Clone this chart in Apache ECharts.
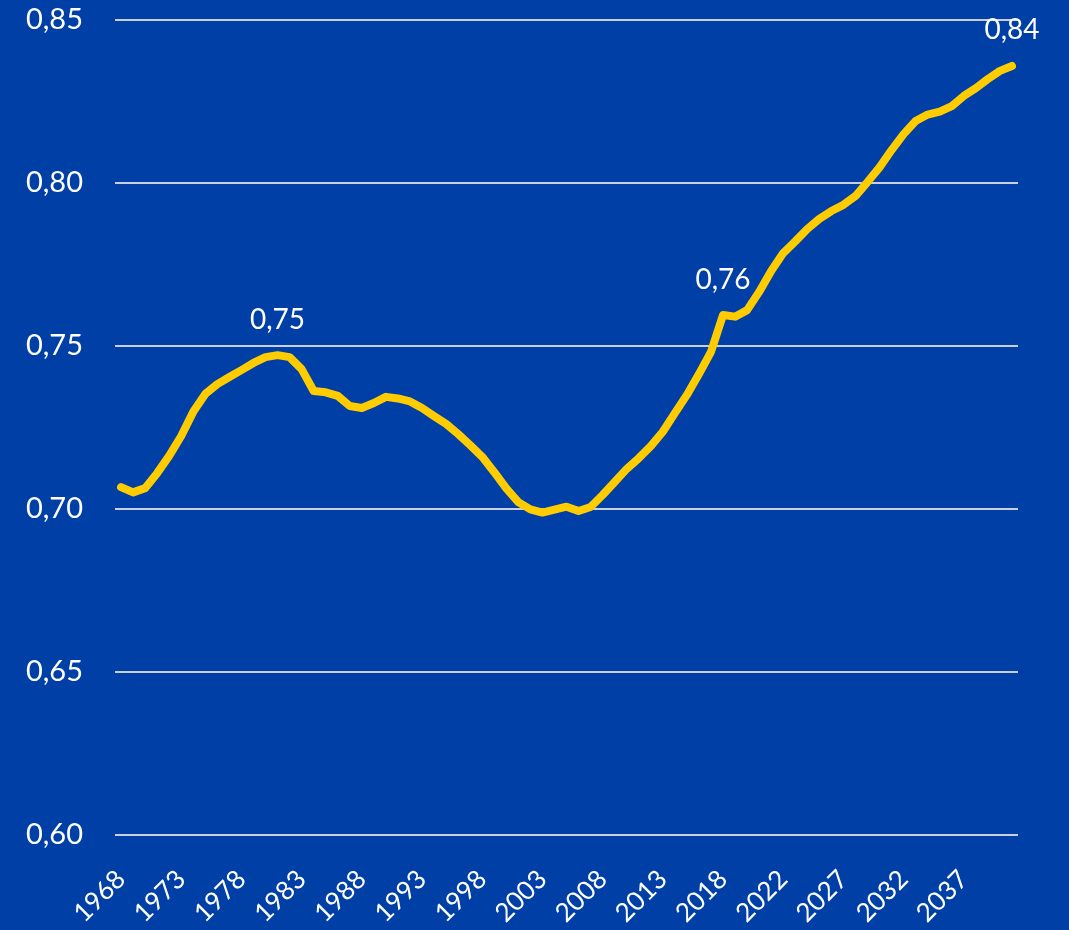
<!DOCTYPE html>
<html>
<head>
<meta charset="utf-8">
<script src="https://cdn.jsdelivr.net/npm/echarts@6/dist/echarts.min.js"></script>
<style>
  html, body { margin: 0; padding: 0; background: #0040a6; }
  #main { width: 1069px; height: 930px; }
</style>
</head>
<body>
<div id="main"></div>
<script>
	// 年份（2018 出现两次：历史数据与预测数据的衔接）
	var years = [];
	for (var y = 1968; y <= 2018; y++) { years.push(String(y)); }
	years.push('2018');
	for (var y = 2019; y <= 2041; y++) { years.push(String(y)); }

	// 读自原图的数值
	var values = [
		0.7067, 0.7051, 0.7064, 0.7110, 0.7163, 0.7224, 0.7298, 0.7353, 0.7383, 0.7405,
		0.7426, 0.7448, 0.7466, 0.7472, 0.7466, 0.7429, 0.7362, 0.7358, 0.7347, 0.7316,
		0.7310, 0.7325, 0.7344, 0.7339, 0.7330, 0.7310, 0.7285, 0.7261, 0.7230, 0.7196,
		0.7160, 0.7113, 0.7063, 0.7021, 0.6999, 0.6989, 0.6998, 0.7007, 0.6994, 0.7006,
		0.7043, 0.7083, 0.7123, 0.7156, 0.7193, 0.7237, 0.7294, 0.7350, 0.7414, 0.7482,
		0.7595, 0.7590, 0.7610, 0.7666, 0.7730, 0.7785, 0.7821, 0.7859, 0.7890, 0.7914,
		0.7933, 0.7960, 0.8003, 0.8048, 0.8101, 0.8150, 0.8190, 0.8210, 0.8219, 0.8236,
		0.8267, 0.8291, 0.8319, 0.8344, 0.8359
	];

	// 需要显示数值标签的点
	var labelled = [13, 50, 74];

	var yTicks = { min: 0.60, max: 0.85, step: 0.05 };

	function fmt(v) {
		return v.toFixed(2).replace('.', ',');
	}

	var seriesData = values.map(function (v, i) {
		if (labelled.indexOf(i) < 0) return v;
		return {
			value: v,
			label: {
				show: true,
				position: 'top',
				distance: 21,
				color: '#ffffff',
				fontSize: 28,
				fontFamily: 'Lato',
				formatter: function (p) { return fmt(p.value); }
			}
		};
	});

	var myChart = echarts.init(document.getElementById('main'));
	option = {
		backgroundColor: '#0040a6',
		animation: false,
		grid: {
			left: 115,
			right: 51,
			top: 20,
			bottom: 95
		},
		xAxis: [
			{
				type: 'category',
				boundaryGap: true,
				data: years,
				axisLine: { show: false },
				axisTick: { show: false },
				axisLabel: {
					interval: 4,
					rotate: 45,
					margin: 40,
					color: '#ffffff',
					fontSize: 26,
					fontFamily: 'Lato'
				}
			}
		],
		yAxis: [
			{
				type: 'value',
				min: yTicks.min,
				max: yTicks.max,
				interval: yTicks.step,
				axisLine: { show: false },
				axisTick: { show: false },
				splitLine: {
					lineStyle: { color: '#c9cfdc', width: 2 }
				},
				axisLabel: {
					margin: 32,
					color: '#ffffff',
					fontSize: 29,
					fontFamily: 'Lato',
					formatter: function (v) { return fmt(v); }
				}
			}
		],
		series: [
			{
				type: 'line',
				data: seriesData,
				showSymbol: true,
				showAllSymbol: true,
				symbol: 'circle',
				symbolSize: 1,
				itemStyle: { color: '#ffcc00' },
				lineStyle: {
					color: '#ffcc00',
					width: 8,
					cap: 'round',
					join: 'round'
				}
			}
		]
	};
	myChart.setOption(option);
</script>
</body>
</html>
